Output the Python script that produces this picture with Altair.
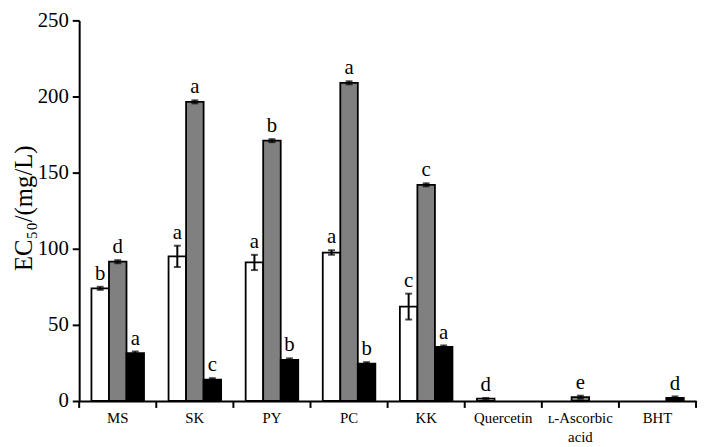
import altair as alt
import pandas as pd

categories = ["MS", "SK", "PY", "PC", "KK", "Quercetin", "ʟ-Ascorbic|acid", "BHT"]
series = ["A", "B", "C"]
# values per series (None = no bar)
white_vals = [74, 95, 91, 97.5, 62, 1.5, None, None]
white_err = [1, 7, 5, 1.5, 8.5, 0.5, None, None]
white_lbl = ["b", "a", "a", "a", "c", "d", None, None]
gray_vals = [91.5, 196.5, 171, 209, 142, None, 2.5, None]
gray_err = [1, 1, 1, 1, 1, None, 1, None]
gray_lbl = ["d", "a", "b", "a", "c", None, "e", None]
black_vals = [31.5, 14, 27, 24.5, 35.5, None, None, 2]
black_err = [1, 1, 1, 1, 1, None, None, 1]
black_lbl = ["a", "c", "b", "b", "a", None, None, "d"]

rows = []
for s, vals, errs, lbls in [("A", white_vals, white_err, white_lbl),
                            ("B", gray_vals, gray_err, gray_lbl),
                            ("C", black_vals, black_err, black_lbl)]:
    for c, v, e, l in zip(categories, vals, errs, lbls):
        if v is None:
            continue
        rows.append({"cat": c, "series": s, "value": v, "lo": v - e, "hi": v + e, "lbl": l})
df = pd.DataFrame(rows)

W, H = 624, 385
FONT = "Liberation Serif"
YTITLE = "EC₅₀/(mg/L)"

xscale = alt.Scale(domain=categories, paddingInner=0, paddingOuter=0)
offscale = alt.Scale(domain=series, paddingInner=0, paddingOuter=0.7)
yscale = alt.Scale(domain=[0, 250], nice=False)

x_axis = alt.Axis(title=None, ticks=False, labelAngle=0, labelFont=FONT,
                  labelFontSize=15, labelColor="black", labelPadding=10,
                  domainColor="black", domainWidth=2, orient="bottom",
                  labelExpr="split(datum.label, '|')", labelLineHeight=19)
y_axis = alt.Axis(title=YTITLE, values=[0, 50, 100, 150, 200, 250],
                  labelFont=FONT, labelFontSize=21, labelColor="black",
                  tickColor="black", tickWidth=2, tickSize=7, labelPadding=4,
                  domainColor="black", domainWidth=2, grid=False,
                  titleFont=FONT, titleFontSize=25, titleFontWeight="normal",
                  titleColor="black", titleX=-56, titleY=H / 2 - 3,
                  titleAngle=270, titleBaseline="middle", titleAlign="center")

x_enc = alt.X("cat:N", scale=xscale, sort=categories, axis=x_axis)
off_enc = alt.XOffset("series:N", scale=offscale)

base = alt.Chart(df)

bars = base.mark_bar(stroke="black", strokeWidth=1.8).encode(
    x=x_enc,
    xOffset=off_enc,
    y=alt.Y("value:Q", scale=yscale, axis=y_axis, title=YTITLE),
    fill=alt.Fill("series:N", scale=alt.Scale(domain=series, range=["white", "#808080", "black"]), legend=None),
)

err = base.mark_rule(color="black", strokeWidth=2).encode(
    x=x_enc, xOffset=off_enc,
    y=alt.Y("lo:Q", scale=yscale, axis=y_axis, title=YTITLE),
    y2="hi:Q",
)
cap_lo = base.mark_tick(color="black", thickness=2, size=7, orient="horizontal").encode(
    x=x_enc, xOffset=off_enc,
    y=alt.Y("lo:Q", scale=yscale, axis=y_axis, title=YTITLE),
)
cap_hi = base.mark_tick(color="black", thickness=2, size=7, orient="horizontal").encode(
    x=x_enc, xOffset=off_enc,
    y=alt.Y("hi:Q", scale=yscale, axis=y_axis, title=YTITLE),
)
labels = base.mark_text(font=FONT, fontSize=21, color="black", baseline="bottom", dy=-3).encode(
    x=x_enc, xOffset=off_enc,
    y=alt.Y("hi:Q", scale=yscale, axis=y_axis, title=YTITLE),
    text="lbl:N",
)

# category boundary ticks on x axis
cat_df = pd.DataFrame({"cat": categories})
edge_ticks = alt.Chart(cat_df).mark_rule(color="black", strokeWidth=2).encode(
    x=alt.X("cat:N", scale=xscale, sort=categories, axis=x_axis, bandPosition=0),
    y=alt.value(H), y2=alt.value(H + 7),
)
end_tick = alt.Chart(pd.DataFrame({"a": [0]})).mark_rule(color="black", strokeWidth=2).encode(
    x=alt.value(W), y=alt.value(H), y2=alt.value(H + 7)
)

chart = alt.layer(bars, err, cap_lo, cap_hi, labels, edge_ticks, end_tick).properties(
    width=W, height=H,
    autosize=alt.AutoSizeParams(type="none"),
    padding={"left": 72, "top": 10, "right": 4, "bottom": 44},
).configure_view(stroke=None)

chart.save("out.html", embed_options={"renderer": "svg", "actions": False})
